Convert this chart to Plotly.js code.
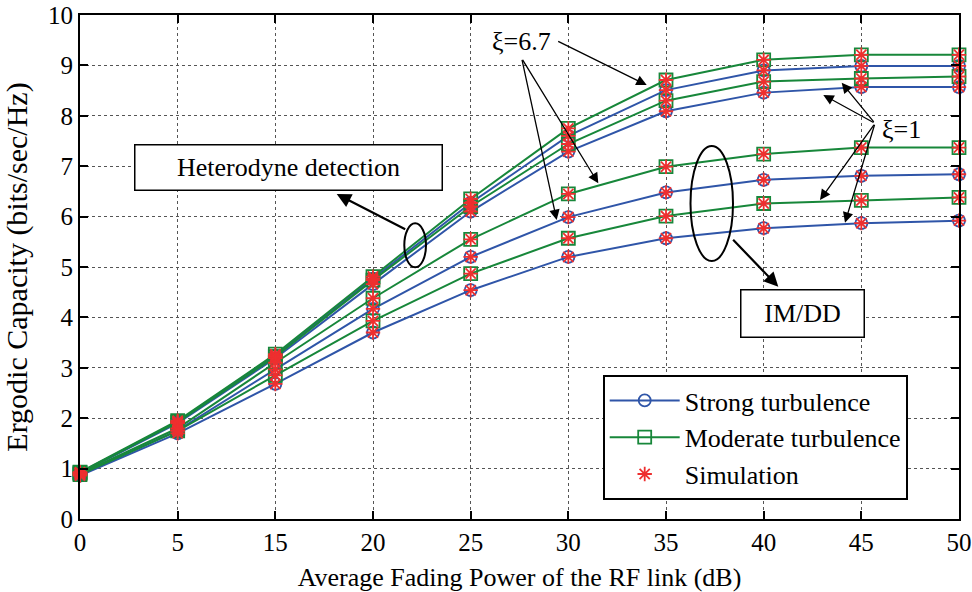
<!DOCTYPE html>
<html>
<head>
<meta charset="utf-8">
<script src="https://cdn.plot.ly/plotly-3.0.1.min.js"></script>
<style>html,body{margin:0;padding:0;background:#fff;}#chart{width:972px;height:592px;}</style>
</head>
<body>
<div id="chart"></div>
<script>
// Categories (x tick labels, dB)
const categories = ['0','5','15','20','25','30','35','40','45','50'];

// Heterodyne detection
const hetModerateXi67 = [0.93, 1.95, 3.27, 4.81, 6.35, 7.75, 8.71, 9.11, 9.21, 9.21];
const hetStrongXi67   = [0.92, 1.93, 3.24, 4.77, 6.27, 7.60, 8.51, 8.90, 8.99, 8.99];
const hetModerateXi1  = [0.92, 1.92, 3.22, 4.74, 6.20, 7.44, 8.30, 8.68, 8.74, 8.78];
const hetStrongXi1    = [0.91, 1.90, 3.19, 4.66, 6.10, 7.29, 8.09, 8.46, 8.57, 8.57];

// IM/DD
const imddModerateXi67 = [0.90, 1.80, 3.10, 4.38, 5.55, 6.45, 6.99, 7.24, 7.37, 7.37];
const imddStrongXi67   = [0.88, 1.76, 2.97, 4.17, 5.20, 5.99, 6.48, 6.73, 6.81, 6.84];
const imddModerateXi1  = [0.88, 1.75, 2.85, 3.93, 4.87, 5.57, 6.01, 6.26, 6.32, 6.38];
const imddStrongXi1    = [0.86, 1.70, 2.68, 3.70, 4.54, 5.20, 5.57, 5.77, 5.87, 5.92];

const seriesNames = ['Strong turbulence', 'Moderate turbulence', 'Simulation'];

const BLUE = '#2f55a8';
const GREEN = '#17873a';
const RED = '#ee2f2f';
const FONT = 'Liberation Serif, Times New Roman, serif';

const curves = [
  {y: hetStrongXi67, kind: 0},
  {y: hetModerateXi67, kind: 1},
  {y: hetStrongXi1, kind: 0},
  {y: hetModerateXi1, kind: 1},
  {y: imddStrongXi67, kind: 0},
  {y: imddModerateXi67, kind: 1},
  {y: imddStrongXi1, kind: 0},
  {y: imddModerateXi1, kind: 1}
];

const traces = [];
const shown = {0:false, 1:false};
curves.forEach(c => {
  const isStrong = c.kind === 0;
  traces.push({
    x: categories, y: c.y, type: 'scatter', mode: 'lines+markers',
    name: seriesNames[c.kind],
    showlegend: !shown[c.kind],
    cliponaxis: false,
    line: {color: isStrong ? BLUE : GREEN, width: 2},
    marker: {symbol: isStrong ? 'circle-open' : 'square-open', size: isStrong ? 12 : 13,
             color: isStrong ? BLUE : GREEN, line: {width: 1.8, color: isStrong ? BLUE : GREEN}}
  });
  shown[c.kind] = true;
});
curves.forEach((c, i) => {
  traces.push({
    x: categories, y: c.y, type: 'scatter', mode: 'markers',
    name: seriesNames[2], showlegend: i === 0, cliponaxis: false,
    marker: {symbol: 'asterisk-open', size: 12, color: RED, line: {width: 1.8, color: RED}}
  });
});

// pixel -> paper helpers for annotation placement
const L = 80, R = 959, T = 15, B = 519;
const px = v => (v - L) / (R - L);
const py = v => (B - v) / (B - T);

function arrow(hx, hy, tx, ty, w, size) {
  return {xref: 'paper', yref: 'paper', x: px(hx), y: py(hy), ax: tx - hx, ay: ty - hy,
          axref: 'pixel', ayref: 'pixel', text: '', showarrow: true,
          arrowhead: 2, arrowsize: size, arrowwidth: w, arrowcolor: '#000'};
}

const annotations = [
  {xref: 'paper', yref: 'paper', x: px(288.5), y: py(167.5), xanchor: 'center', yanchor: 'middle',
   text: 'Heterodyne detection', showarrow: false, font: {family: FONT, size: 26, color: '#000'},
   bgcolor: '#fff', bordercolor: '#000', borderwidth: 1.5, borderpad: 2, width: 302, height: 40},
  {xref: 'paper', yref: 'paper', x: px(802.3), y: py(313), xanchor: 'center', yanchor: 'middle',
   text: 'IM/DD', showarrow: false, font: {family: FONT, size: 26, color: '#000'},
   bgcolor: '#fff', bordercolor: '#000', borderwidth: 1.5, borderpad: 2, width: 118, height: 42},
  {xref: 'paper', yref: 'paper', x: px(521.7), y: py(41.7), xanchor: 'center', yanchor: 'middle',
   text: 'ξ=6.7', showarrow: false, font: {family: FONT, size: 26, color: '#000'}},
  {xref: 'paper', yref: 'paper', x: px(901.7), y: py(129.3), xanchor: 'center', yanchor: 'middle',
   text: 'ξ=1', showarrow: false, font: {family: FONT, size: 26, color: '#000'}},
  arrow(336.7, 194, 406.7, 230, 2.2, 1.3),
  arrow(778.3, 286.7, 731.7, 238.3, 2.2, 1.3),
  arrow(646.7, 85, 556.7, 40.7, 1.3, 1.6),
  arrow(598.3, 183.3, 521.7, 58.3, 1.3, 1.6),
  arrow(556.7, 220, 521.7, 58.3, 1.3, 1.6),
  arrow(823.3, 95, 875, 123.3, 1.3, 1.6),
  arrow(841.7, 82.7, 875, 123.3, 1.3, 1.6),
  arrow(820, 200, 875, 123.3, 1.3, 1.6),
  arrow(845, 222.7, 875, 123.3, 1.3, 1.6)
];

const shapes = [
  {type: 'circle', xref: 'paper', yref: 'paper', x0: px(404.3), x1: px(426), y0: py(267.3), y1: py(223.3),
   line: {color: '#000', width: 2}},
  {type: 'circle', xref: 'paper', yref: 'paper', x0: px(690.5), x1: px(733), y0: py(261), y1: py(146),
   line: {color: '#000', width: 2}}
];

const axisCommon = {
  showline: true, linecolor: '#000', linewidth: 2, mirror: 'ticks',
  ticks: 'inside', ticklen: 8, tickwidth: 2, tickcolor: '#000',
  showgrid: true, gridcolor: '#555', gridwidth: 1, griddash: 'dot',
  zeroline: false, tickfont: {family: FONT, size: 25, color: '#000'}
};

const layout = {
  width: 972, height: 592,
  margin: {l: L, r: 972 - R, t: T, b: 592 - B},
  paper_bgcolor: '#fff', plot_bgcolor: '#fff',
  font: {family: FONT, color: '#000'},
  xaxis: Object.assign({}, axisCommon, {
    type: 'category', range: [0, 9],
    title: {text: 'Average Fading Power of the RF link (dB)', font: {family: FONT, size: 26, color: '#000'}}
  }),
  yaxis: Object.assign({}, axisCommon, {
    range: [0, 10], dtick: 1,
    title: {text: 'Ergodic Capacity (bits/sec/Hz)', font: {family: FONT, size: 30, color: '#000'}}
  }),
  legend: {
    x: px(602.7), y: py(375), xanchor: 'left', yanchor: 'top',
    bgcolor: '#fff', bordercolor: '#000', borderwidth: 2, itemwidth: 70,
    font: {family: FONT, size: 26, color: '#000'}, traceorder: 'normal'
  },
  annotations: annotations,
  shapes: shapes,
  showlegend: true
};

Plotly.newPlot('chart', traces, layout, {displayModeBar: false, staticPlot: true});
</script>
</body>
</html>
